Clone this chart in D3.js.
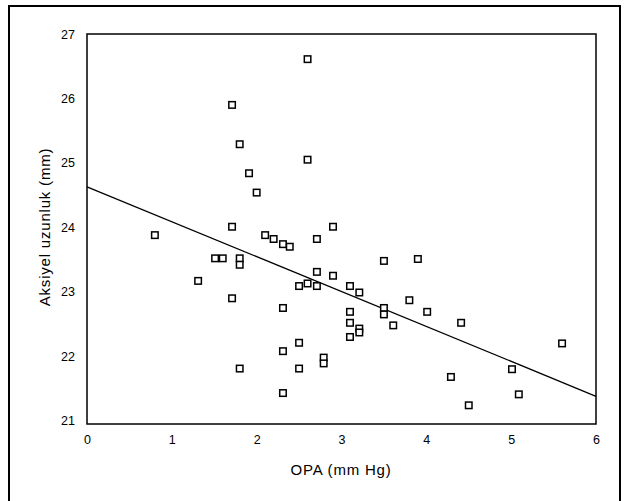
<!DOCTYPE html>
<html><head><meta charset="utf-8">
<script src="https://cdn.jsdelivr.net/npm/d3@7"></script>
<style>html,body{margin:0;padding:0;background:#fff;}svg{display:block;}</style>
</head><body>
<script>
const opaValues = [1.71,1.80,1.91,2.00,1.71,0.80,2.10,2.20,1.51,1.60,1.80,1.80,1.31,1.71,1.80,
  2.60,2.60,2.90,2.31,2.39,2.71,2.71,2.90,2.50,2.60,2.71,3.10,3.21,3.50,3.90,2.31,3.10,3.50,3.50,
  3.80,4.01,3.10,3.21,3.21,3.61,3.10,4.41,2.50,2.31,2.79,2.79,2.50,4.29,2.31,4.50,5.60,5.01,5.09];
const axialValues = [25.90,25.29,24.84,24.54,24.01,23.88,23.88,23.82,23.52,23.52,23.52,23.42,23.17,22.90,21.81,
  26.61,25.05,24.01,23.74,23.70,23.82,23.31,23.25,23.09,23.13,23.09,23.09,22.99,23.48,23.51,22.75,22.69,22.75,22.65,
  22.87,22.69,22.52,22.43,22.37,22.48,22.30,22.52,22.21,22.08,21.98,21.89,21.81,21.68,21.43,21.24,22.20,21.80,21.41];
const fitX = [0, 6];
const fitY = [24.63, 21.38];
const xTicks = [0,1,2,3,4,5,6];
const yTicks = [21,22,23,24,25,26,27];
const xTitle = "OPA (mm Hg)";
const yTitle = "Aksiyel uzunluk (mm)";

const W = 628, H = 501;
const svg = d3.select("body").append("svg").attr("width", W).attr("height", H);
const font = "Liberation Sans, Arial, sans-serif";

// outer frame
svg.append("rect").attr("x", 9).attr("y", 6).attr("width", 611).attr("height", 510)
  .attr("fill", "none").attr("stroke", "#000").attr("stroke-width", 2);

const x = d3.scaleLinear().domain([0, 6]).range([87, 596]);
const y = d3.scaleLinear().domain([20.95, 27]).range([424, 34]);

// plot box
svg.append("rect").attr("x", x(0)).attr("y", y(27)).attr("width", x(6) - x(0)).attr("height", y(20.95) - y(27))
  .attr("fill", "none").attr("stroke", "#000").attr("stroke-width", 1.5);

const xAxis = svg.append("g").attr("transform", `translate(0,${y(20.95)})`)
  .call(d3.axisBottom(x).tickValues(xTicks).tickSize(0).tickPadding(11).tickFormat(d3.format("d")));
xAxis.select(".domain").remove();
xAxis.selectAll("text").attr("font-family", font).attr("font-size", 12.5).attr("fill", "#000");

const yAxis = svg.append("g").attr("transform", `translate(${x(0)},0)`)
  .call(d3.axisLeft(y).tickValues(yTicks).tickSize(0).tickPadding(12).tickFormat(d3.format("d")));
yAxis.select(".domain").remove();
yAxis.selectAll("text").attr("font-family", font).attr("font-size", 12.5).attr("fill", "#000");

svg.append("text").attr("x", 341).attr("y", 475).attr("text-anchor", "middle")
  .attr("font-family", font).attr("font-size", 15).attr("letter-spacing", 0.8).text(xTitle);
svg.append("text").attr("transform", "translate(50,227) rotate(-90)").attr("text-anchor", "middle")
  .attr("font-family", font).attr("font-size", 15).attr("letter-spacing", 0.8).text(yTitle);

// regression line
const line = d3.line().x(d => x(d[0])).y(d => y(d[1]));
svg.append("path").datum(fitX.map((v, i) => [v, fitY[i]])).attr("d", line)
  .attr("fill", "none").attr("stroke", "#000").attr("stroke-width", 1.3);

// points
const pts = opaValues.map((v, i) => [v, axialValues[i]]);
svg.append("g").selectAll("rect").data(pts).join("rect")
  .attr("x", d => x(d[0]) - 3.25).attr("y", d => y(d[1]) - 3.25)
  .attr("width", 6.5).attr("height", 6.5)
  .attr("fill", "#fff").attr("stroke", "#000").attr("stroke-width", 1.5);
</script>
</body></html>
